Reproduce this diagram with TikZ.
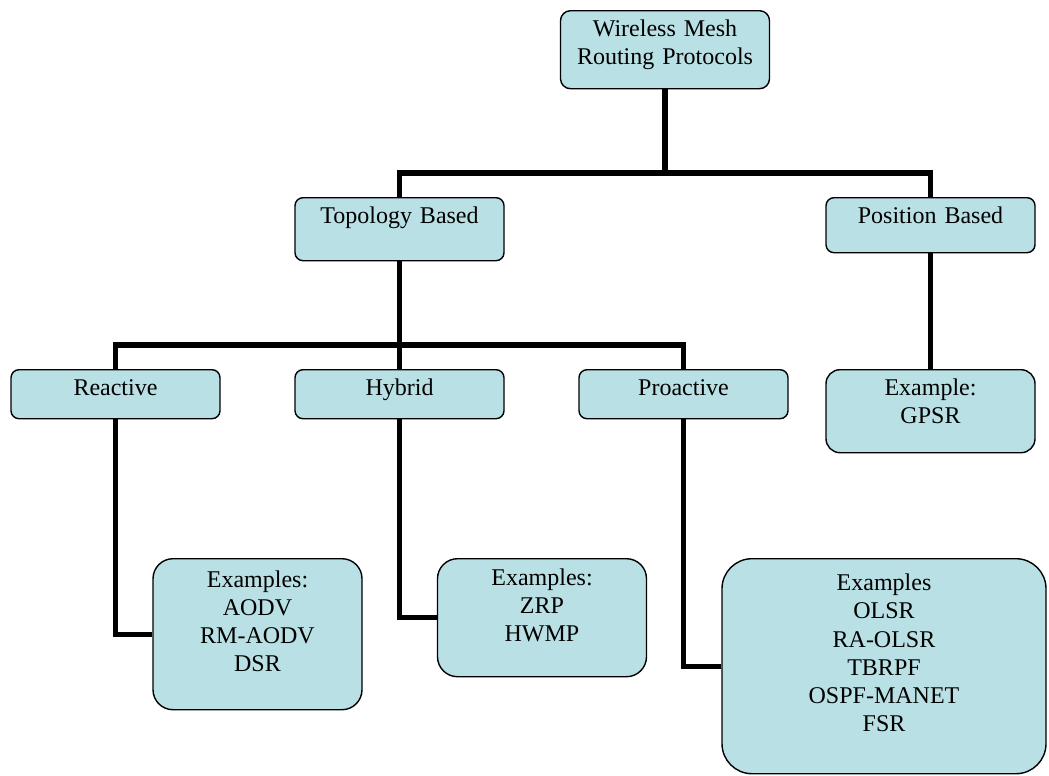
\documentclass[tikz,border=0pt]{standalone}
\usepackage{fontspec}
\setmainfont{Liberation Serif}
\usepackage{xcolor}
\usepackage{tikz}
\definecolor{boxfill}{RGB}{185,224,228}

\begin{document}
\begin{tikzpicture}[x=0.5pt,y=-0.5pt,
  box/.style={draw,fill=boxfill,line width=0.7pt,rounded corners=4pt,anchor=north,
    text width=100.5pt,align=center,inner xsep=2pt,inner ysep=4pt,text height=9pt,
    font=\fontsize{12}{13.9}\selectfont},
  link/.style={line width=2.6pt}]
  \useasboundingbox (0,0) rectangle (1049,776);
  % boxes
  \node[box,rounded corners=5pt,text depth=22pt] (root) at (665,10) {Wireless Mesh\\Routing Protocols};
  \node[box,text depth=14.5pt] (topo) at (399.5,197) {Topology Based};
  \node[box,text depth=10.5pt] (pos) at (930.5,197) {Position Based};
  \node[box,text depth=7.5pt] (react) at (115.5,369) {Reactive};
  \node[box,text depth=7.5pt] (hybrid) at (399.5,369) {Hybrid};
  \node[box,text depth=7.5pt] (proact) at (683.5,369) {Proactive};
  \node[box,rounded corners=7pt,text depth=24.5pt] (gpsr) at (930.5,369) {Example:\\GPSR};
  \node[box,rounded corners=10pt,text height=10.5pt,text depth=57pt] (aodv) at (257.5,558) {Examples:\\AODV\\RM-AODV\\DSR};
  \node[box,rounded corners=10pt,text height=9.5pt,text depth=41.5pt] (zrp) at (542,558) {Examples:\\ZRP\\HWMP};
  \node[box,rounded corners=15pt,text width=158pt,inner ysep=5pt,text height=11pt,
    font=\fontsize{12}{14.1}\selectfont,text depth=86.5pt] (olsr) at (884,558) {Examples\\OLSR\\RA-OLSR\\TBRPF\\OSPF-MANET\\FSR};
  % connectors
  \coordinate (split1) at (665,173);
  \coordinate (split2) at (399.5,345);
  \draw[link] (root.south) -- (split1) -| (topo.north);
  \draw[link] (split1) -| (pos.north);
  \draw[link] (topo.south) -- (hybrid.north);
  \draw[link] (react.north) |- (split2) -| (proact.north);
  \draw[link] (pos.south) -- (gpsr.north);
  \draw[link] (react.south) |- (aodv.west);
  \draw[link] (hybrid.south) |- (zrp.west);
  \draw[link] (proact.south) |- (olsr.west);
\end{tikzpicture}
\end{document}
